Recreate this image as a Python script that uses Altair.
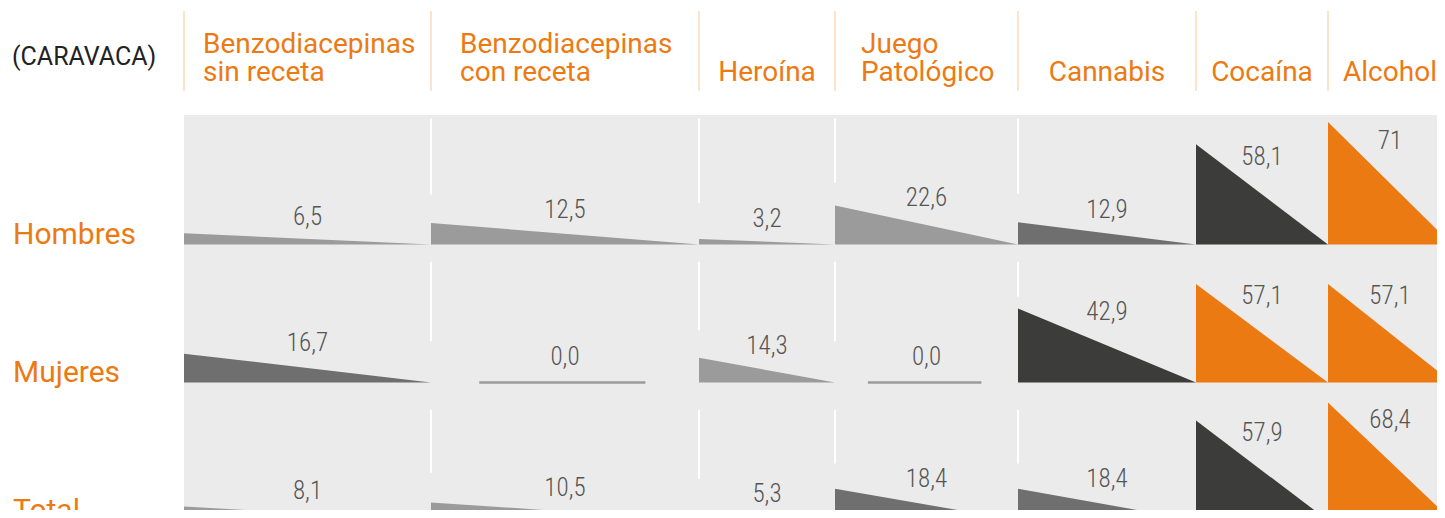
import altair as alt
import pandas as pd

# ---------------- data ----------------
categorias = ["Benzodiacepinas\nsin receta", "Benzodiacepinas\ncon receta", "Heroína",
              "Juego\nPatológico", "Cannabis", "Cocaína", "Alcohol"]
grupos = ["Hombres", "Mujeres", "Total"]
hombres = [6.5, 12.5, 3.2, 22.6, 12.9, 58.1, 71]
mujeres = [16.7, 0.0, 14.3, 0.0, 42.9, 57.1, 57.1]
total = [8.1, 10.5, 5.3, 18.4, 18.4, 57.9, 68.4]
etiquetas_hombres = ["6,5", "12,5", "3,2", "22,6", "12,9", "58,1", "71"]
etiquetas_mujeres = ["16,7", "0,0", "14,3", "0,0", "42,9", "57,1", "57,1"]
etiquetas_total = ["8,1", "10,5", "5,3", "18,4", "18,4", "57,9", "68,4"]
niveles_hombres = ["bajo", "bajo", "bajo", "bajo", "medio", "alto", "maximo"]
niveles_mujeres = ["medio", "bajo", "bajo", "bajo", "alto", "maximo", "maximo"]
niveles_total = ["bajo", "bajo", "bajo", "medio", "medio", "alto", "maximo"]
titulo = "(CARAVACA)"

valores = [hombres, mujeres, total]
etiquetas = [etiquetas_hombres, etiquetas_mujeres, etiquetas_total]
niveles = [niveles_hombres, niveles_mujeres, niveles_total]

# ---------------- layout / style ----------------
W, H = 1429, 502
K = 1.725                      # px per value unit
Y_TOP = 297.1                  # value unit at the top of the plot
X_DOM = [8, 8 + W]             # x scale expressed in page pixels
Y_DOM = [Y_TOP - H / K, Y_TOP]
BORDES = [184, 431, 699, 835, 1018, 1196, 1328, 1452]
BASES = [160, 80, 0]           # baseline of each row (value units)
SEP_TOP = [73, 70, 64]         # top of white separators above each baseline
GRIS_TOP = 235.0               # top of grey panel (value units)
HEAD_LEFT = [203, 460, None, 861, None, None, None]
NARANJA = "#ec7a13"
FONT = "Roboto"
FONT_NUM = "'Roboto Condensed', 'Liberation Sans Narrow', 'DejaVu Sans Condensed', Roboto"

xs = alt.Scale(domain=X_DOM, nice=False, zero=False)
ys = alt.Scale(domain=Y_DOM, nice=False, zero=False)
col_scale = alt.Scale(domain=["bajo", "medio", "alto", "maximo"],
                      range=["#9b9b9b", "#6f6f6f", "#3c3c3b", NARANJA])


def label_y(base, v):
    return base + 11.5 + 0.68 * max(v, 5)


tri_rows, zero_rows, lab_rows, sep_rows = [], [], [], []
for r, g in enumerate(grupos):
    base = BASES[r]
    for c, cat in enumerate(categorias):
        v = valores[r][c]
        xl, xr = BORDES[c], BORDES[c + 1]
        cid = f"{g}-{c}"
        if v > 0:
            tri_rows.append(dict(id=cid, nivel=niveles[r][c], x=xl, y=base + v, y2=base))
            tri_rows.append(dict(id=cid, nivel=niveles[r][c], x=xr, y=base, y2=base))
        else:
            w = xr - xl
            zero_rows.append(dict(x=xl + 0.18 * w, x2=xr - 0.2 * w, y=base))
        lab_rows.append(dict(x=(xl + xr) / 2, y=label_y(base, v), t=etiquetas[r][c]))
        if 1 <= c <= 4:
            sep_rows.append(dict(x=xl, y=base + SEP_TOP[r], y2=label_y(base, v) + 9))

tri = pd.DataFrame(tri_rows)
zeros = pd.DataFrame(zero_rows)
labs = pd.DataFrame(lab_rows)
seps = pd.DataFrame(sep_rows)
fondo = pd.DataFrame([dict(x=BORDES[0], x2=BORDES[-1], y=GRIS_TOP, y2=Y_DOM[0])])

head_rows = []
for c, cat in enumerate(categorias):
    lines = cat.split("\n")
    center = (BORDES[c] + BORDES[c + 1]) / 2
    if len(lines) == 1:
        head_rows.append(dict(x=center, t=lines[0], linea=2, al="center"))
    else:
        head_rows.append(dict(x=HEAD_LEFT[c], t=lines[0], linea=1, al="left"))
        head_rows.append(dict(x=HEAD_LEFT[c], t=lines[1], linea=2, al="left"))
heads = pd.DataFrame(head_rows)
hsep = pd.DataFrame(dict(x=BORDES[:-1]))
filas = pd.DataFrame(dict(g=grupos, y=BASES))

# ---------------- layers ----------------
bg = alt.Chart(fondo).mark_rect(color="#ebebeb", clip=True).encode(
    x=alt.X("x:Q", scale=xs, axis=None), x2="x2:Q",
    y=alt.Y("y:Q", scale=ys, axis=None), y2="y2:Q")

white = alt.Chart(seps).mark_rule(color="white", strokeWidth=2, clip=True).encode(
    x=alt.X("x:Q", scale=xs), y=alt.Y("y:Q", scale=ys), y2="y2:Q")

areas = alt.Chart(tri).mark_area(clip=True, interpolate="linear").encode(
    x=alt.X("x:Q", scale=xs),
    y=alt.Y("y:Q", scale=ys, stack=None),
    y2="y2:Q",
    detail="id:N",
    color=alt.Color("nivel:N", scale=col_scale, legend=None))

zl = alt.Chart(zeros).mark_rule(color="#9b9b9b", strokeWidth=2.5, clip=True).encode(
    x=alt.X("x:Q", scale=xs), x2="x2:Q", y=alt.Y("y:Q", scale=ys))

vals = alt.Chart(labs).mark_text(font=FONT_NUM, fontSize=25, fontWeight=300,
                                 color="#555555", baseline="middle").encode(
    x=alt.X("x:Q", scale=xs), y=alt.Y("y:Q", scale=ys), text="t:N")

h1 = alt.Chart(heads).transform_filter("datum.linea == 1").mark_text(
    font=FONT, fontSize=28, color=NARANJA, align="left", baseline="alphabetic").encode(
    x=alt.X("x:Q", scale=xs), y=alt.value(45), text="t:N")
h2l = alt.Chart(heads).transform_filter("datum.linea == 2 && datum.al == 'left'").mark_text(
    font=FONT, fontSize=28, color=NARANJA, align="left", baseline="alphabetic").encode(
    x=alt.X("x:Q", scale=xs), y=alt.value(72.7), text="t:N")
h2c = alt.Chart(heads).transform_filter("datum.linea == 2 && datum.al == 'center'").mark_text(
    font=FONT, fontSize=28, color=NARANJA, align="center", baseline="alphabetic").encode(
    x=alt.X("x:Q", scale=xs), y=alt.value(72.7), text="t:N")

hs = alt.Chart(hsep).mark_rule(color="#fce3ca", strokeWidth=2).encode(
    x=alt.X("x:Q", scale=xs), y=alt.value(3), y2=alt.value(83))

rows = alt.Chart(filas).mark_text(font=FONT, fontSize=30, color=NARANJA, align="left",
                                  baseline="alphabetic").encode(
    x=alt.value(5), y=alt.Y("y:Q", scale=ys), text="g:N")

tit = alt.Chart(pd.DataFrame(dict(t=[titulo]))).mark_text(
    font=FONT, fontSize=25, color="#222222", align="left", baseline="alphabetic").encode(
    x=alt.value(4), y=alt.value(57), text="t:N")

chart = alt.layer(bg, white, areas, zl, vals, h1, h2l, h2c, hs, rows, tit).properties(
    width=W, height=H, padding=0,
    autosize=alt.AutoSizeParams(type="none")
).configure_view(strokeWidth=0)

chart.save("out.html", embed_options={"renderer": "svg", "actions": False})
